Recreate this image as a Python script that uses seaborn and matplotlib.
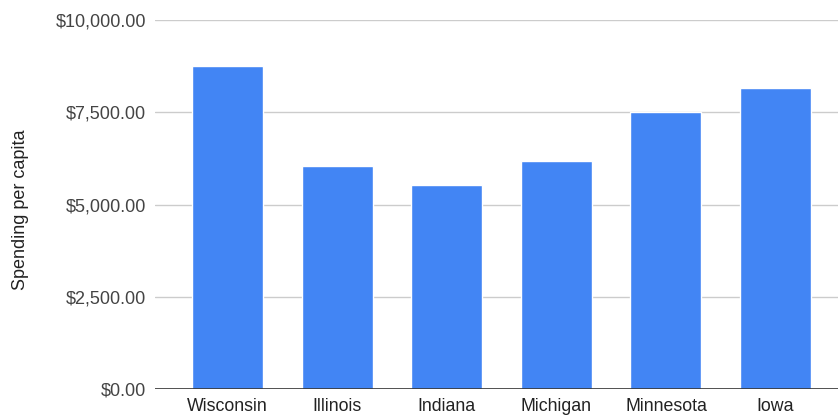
import matplotlib
matplotlib.use("Agg")
import matplotlib.pyplot as plt
import seaborn as sns
import pandas as pd
from matplotlib.ticker import FuncFormatter

states = ["Wisconsin", "Illinois", "Indiana", "Michigan", "Minnesota", "Iowa"]
spending = [8760, 6055, 5525, 6180, 7510, 8150]
y_ticks = [0, 2500, 5000, 7500, 10000]

df = pd.DataFrame({"State": states, "Spending": spending})

sns.set_theme(style="white")
plt.rcParams["font.family"] = ["Liberation Sans", "DejaVu Sans"]

fig = plt.figure(figsize=(8.38, 4.15), dpi=100)
ax = fig.add_axes([155 / 838, 1 - 389.3 / 415, 1 - 155 / 838, (389.3 - 20) / 415])

sns.barplot(data=df, x="State", y="Spending", color="#4285F4", saturation=1,
            width=0.648, ax=ax, zorder=3)

ax.set_ylim(0, 10000)
ax.set_xlim(-0.664, 5.57)
ax.set_yticks(y_ticks)
ax.yaxis.set_major_formatter(FuncFormatter(lambda v, _: f"${v:,.2f}"))

for t in y_ticks[1:]:
    ax.axhline(t, color="#cccccc", lw=1, zorder=1)
ax.axhline(0, color="#333333", lw=1.2, zorder=4)

for s in ax.spines.values():
    s.set_visible(False)

ax.tick_params(axis="y", length=0, pad=6.5, labelsize=13, labelcolor="#444444")
ax.tick_params(axis="x", length=0, pad=6, labelsize=12.8, labelcolor="#222222")
ax.set_xlabel("")
ax.set_ylabel("Spending per capita", fontsize=13, color="#222222")
ax.yaxis.set_label_coords(-126 / 683, 0.486)
ax.grid(False)

fig.savefig("out.png", dpi=100)
